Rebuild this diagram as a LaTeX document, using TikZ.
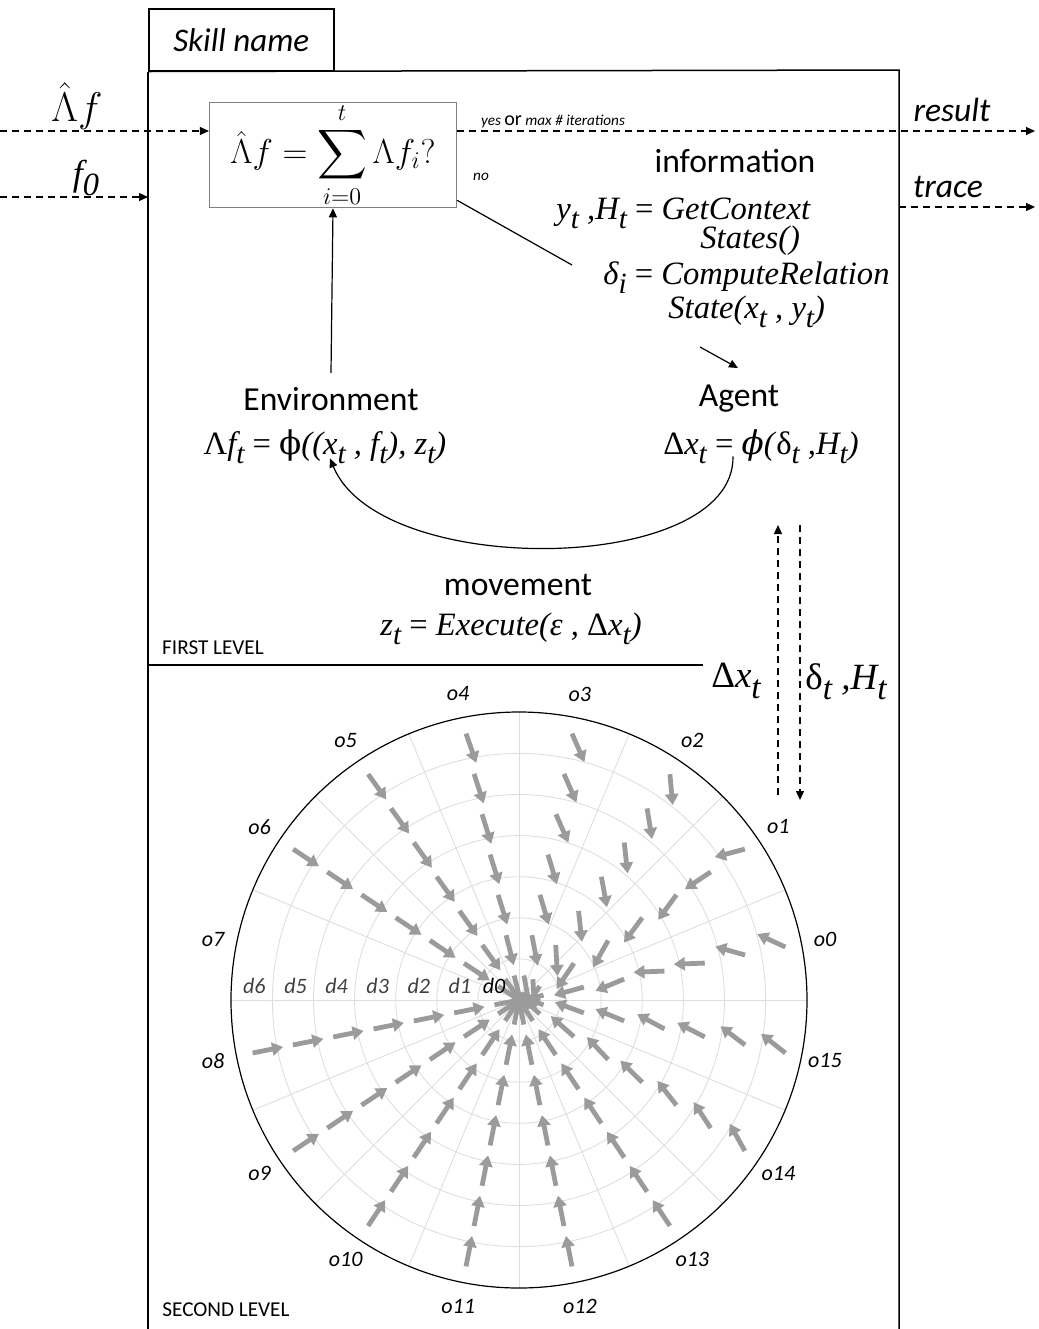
\documentclass[tikz,border=0pt]{standalone}
\usepackage[no-math]{fontspec}
\usepackage{graphicx}
\usepackage{exscale}
\setmainfont{Carlito}
\newfontfamily\tms{Liberation Serif}
\newfontfamily\djs{DejaVu Serif}
\usetikzlibrary{arrows.meta, calc}

\definecolor{vecgray}{RGB}{155,155,155}
\definecolor{gridgray}{RGB}{222,222,222}
\definecolor{boxgray}{RGB}{128,128,128}

% lowered subscript as in the equation editor
\newcommand{\lowsub}[1]{\raisebox{-0.6ex}{\scalebox{0.9}{#1}}}
\newcommand{\tf}[1]{{\tms\itshape #1}}
\newcommand{\up}[1]{\textup{#1}}

\begin{document}
\begin{tikzpicture}[x=0.5pt, y=-0.5pt,
  frame/.style={line width=0.75pt},
  sumbox/.style={draw=boxgray, line width=0.6pt, minimum width=123.5pt, minimum height=50pt, inner sep=0pt},
  tab/.style={draw, line width=0.75pt, minimum width=92.5pt, minimum height=31pt, anchor=north west, font=\fontsize{16.5}{18}\selectfont\itshape},
  big/.style={font=\fontsize{16.8}{19}\selectfont, inner sep=0pt},
  bigit/.style={font=\fontsize{16.8}{19}\selectfont\itshape, inner sep=0pt},
  eq/.style={font=\fontsize{16.3}{19}\selectfont, inner sep=0pt},
  tiny/.style={font=\fontsize{7.6}{9}\selectfont, inner sep=0pt},
  level/.style={font=\fontsize{10.6}{12}\selectfont, inner sep=0pt},
  dasharrow/.style={dash pattern=on 3.5pt off 2.5pt, line width=0.6pt, -{Triangle[length=4.5pt,width=4pt]}},
  arrow/.style={line width=0.6pt, -{Triangle[length=4.5pt,width=4pt]}},
  gridline/.style={draw=gridgray, line width=0.45pt},
  vec/.style={draw=vecgray, line width=2.4pt, -{Triangle[length=5.5pt,width=6.5pt]}},
  olab/.style={font=\fontsize{11}{13}\selectfont\itshape, inner sep=0pt},
  dlab/.style={font=\fontsize{11}{13}\selectfont\itshape, text=black!75, inner sep=0pt}
]
\useasboundingbox (0,0) rectangle (1039,1329);

% frame and tab
\node[tab] (skill) at (148,8) {Skill name};
\draw[frame] (skill.south west) -- (148,1329);
\draw[frame] (skill.south west) -- (899,70) -- (899,1329);

% stop test
\node[sumbox] (sum) at (333,155) {\fontsize{18}{21}\selectfont$\displaystyle \hat{\Lambda} f = \sum_{i=0}^{t} \Lambda f_i?$};

% inputs and outputs
\coordinate (inl) at (0,131);
\coordinate (inf) at (0,197);
\coordinate (framef) at (148,197);
\coordinate (outres) at (1035,131);
\coordinate (trin) at (899,207);
\coordinate (trout) at (1035,207);
\node[inner sep=0pt, font=\fontsize{21}{24}\selectfont] (lamlab) at (77,106) {$\hat{\Lambda} f$};
\node[inner sep=0pt, font=\fontsize{18}{21}\selectfont] (f0lab) at (86,178) {\tf{f\lowsub{0}}};
\draw[dasharrow] (inl) -- (sum.west |- inl);
\draw[dasharrow] (inf) -- (framef);
\draw[dasharrow] (sum.east |- inl) -- (outres);
\draw[dasharrow] (trin) -- (trout);
\node[tiny] (yes) at (553,121) {\textit{yes} {\fontsize{10}{11}\selectfont or} \textit{max \# iterations}};
\node[tiny] (no) at (481,177) {\textit{no}};
\node[bigit] (result) at (952,110) {result};
\node[bigit] (trace) at (948,187) {trace};

% information step
\node[big] (info) at (735,161) {information};
\node[eq, anchor=west] (info1) at (556,213) {\tf{y\lowsub{t} ,H\lowsub{t} \up{=} GetContext}};
\node[eq, anchor=west] (info2) at (700,241) {\tf{States()}};
\node[eq, anchor=west] (info3) at (603,278) {\tf{δ\lowsub{i} \up{=} ComputeRelation}};
\node[eq, anchor=west] (info4) at (668,312) {\tf{State(x\lowsub{t} , y\lowsub{t})}};
\coordinate (noend) at (572,265);
\coordinate (infoout) at (700,347);
\draw[line width=0.6pt] (sum.south east) ++(0,-8) -- (noend);
\draw[arrow] (infoout) -- (738,368);

% environment and agent
\node[big] (env) at (331,399) {Environment};
\node[eq] (envf) at (325,447) {\tf{\up{Λ}f\lowsub{t} \up{=} {\djs\upshape ϕ}((x\lowsub{t} , f\lowsub{t}), z\lowsub{t})}};
\node[big] (agent) at (739,399) {Agent};
\node[eq] (agentf) at (761,447) {\tf{\up{Δ}x\lowsub{t} \up{=} {\djs ϕ}(\up{δ}\lowsub{t} ,H\lowsub{t})}};
\draw[arrow] (env.north) ++(0,-14) -- (sum.south);
\draw[arrow] ($(agentf.south)+(-28,-8)$) .. controls (735,575) and (380,580) .. ($(envf.south)+(5,-6)$);

% movement
\node[big] (move) at (518,585) {movement};
\node[eq] (movef) at (511,629) {\tf{z\lowsub{t} \up{=} Execute(ε , \up{Δ}x\lowsub{t})}};
\node[level] (first) at (213,648) {FIRST LEVEL};
\draw[frame] (148,665) -- (703,665);

% link between the two levels
\node[eq, font=\fontsize{18.5}{21}\selectfont] (dxlab) at (736,681) {\tf{\up{Δ}x\lowsub{t}}};
\node[eq, font=\fontsize{18.5}{21}\selectfont] (dhlab) at (846,682) {\tf{\up{δ}\lowsub{t} ,H\lowsub{t}}};
\coordinate (upfrom) at (778,795);
\coordinate (upto) at (778,525);
\coordinate (downfrom) at (800,525);
\coordinate (downto) at (800,800);
\draw[dasharrow] (upfrom) -- (upto);
\draw[dasharrow] (downfrom) -- (downto);

% second level: polar quiver of directions o0-o15 and distances d0-d6
\begin{scope}[shift={(519,1000)}, y=0.5pt]
  \foreach \j in {1,...,6}
    \draw[gridline] (0,0) circle[radius=41.1*\j];
  \foreach \a in {0,22.5,...,337.5}
    \draw[gridline] (0,0) -- (\a:288);
  \draw[line width=0.6pt] (0,0) circle[radius=288];
  \foreach \k/\rots in {0/{4,4,11,-9,-9,-27,-36}, 1/{22,22,27,20,20,0,-19},
      2/{37,37,40,44,40,43,39}, 3/{22,22,28,28,35,35,35}, 4/{3,3,6,6,6,7,8},
      5/{2,2,2,2,2,2,2}, 6/{0,0,0,0,0,0,0}, 8/{0,0,0,0,0,0,0},
      9/{0,0,0,0,0,0,0}, 10/{0,0,0,0,0,0,0}, 11/{0,0,0,0,0,0,0},
      12/{0,0,0,0,0,0,0}, 13/{0,0,0,0,0,0,0},
      14/{-8,-8,-13,-11,-18,-23,-27}, 15/{-9,-9,-11,-17,-16,-26,-27}} {
    \foreach \rot [count=\j from 0] in \rots
      \draw[vec] ({11.25+22.5*\k}:{41.1*\j+25}) -- ++({191.25+22.5*\k+\rot}:31);
  }
  \foreach \k in {0,...,15}
    \node[olab] (o\k) at ({11.25+22.5*\k}:312) {o\k};
  \foreach \j in {1,...,6}
    \node[dlab] (d\j) at ({-41.1*\j-18},14) {d\j};
  \node[olab] (d0) at (-25,14) {d0};
\end{scope}
\node[level] (second) at (226,1310) {SECOND LEVEL};
\end{tikzpicture}
\end{document}
